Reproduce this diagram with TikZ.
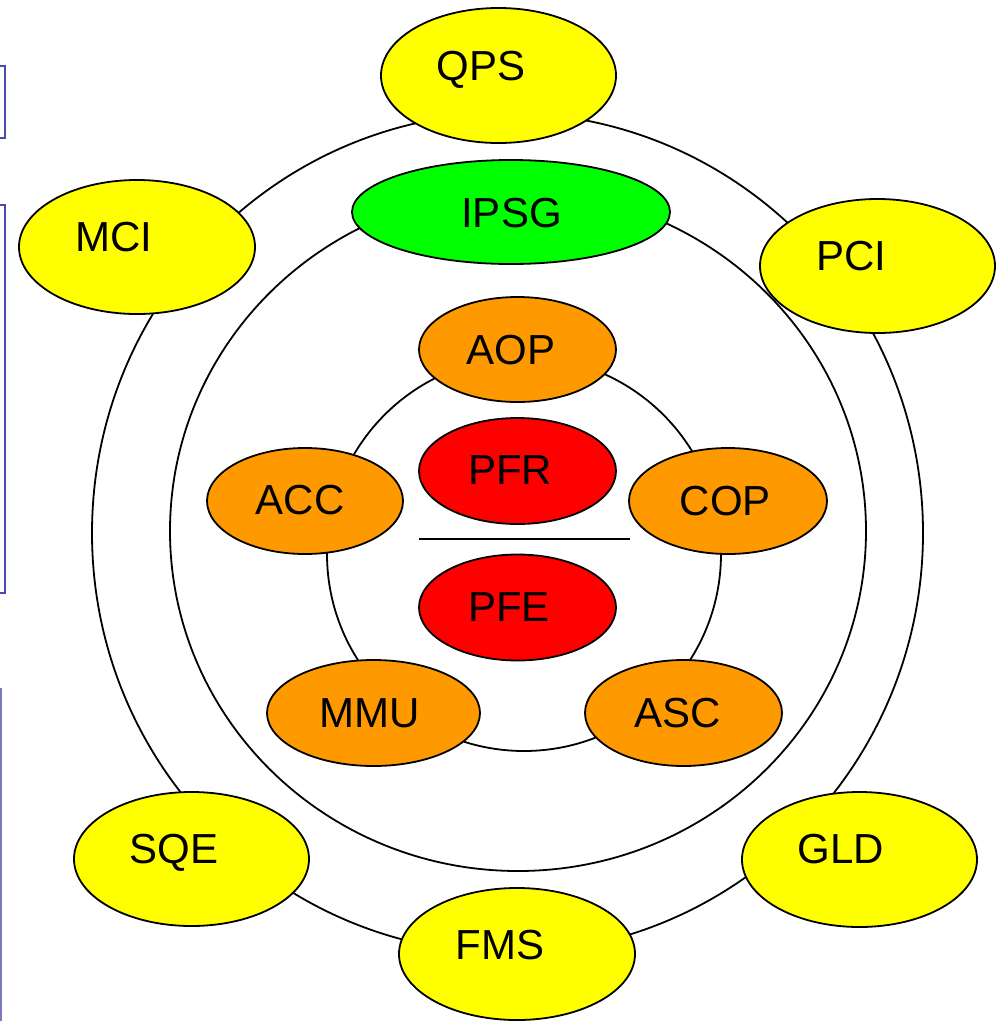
\documentclass[tikz,border=0pt]{standalone}
\usepackage{fontspec}
\setmainfont{Liberation Sans}
\usetikzlibrary{shapes.geometric}
\definecolor{ylw}{HTML}{FFFF00}
\definecolor{grn}{HTML}{00FF00}
\definecolor{orng}{HTML}{FF9900}
\definecolor{rd}{HTML}{FF0000}
\definecolor{boxblue}{HTML}{4A4AAA}
\definecolor{boxblueb}{HTML}{7A7AC4}
\tikzset{
  oval/.style 2 args={ellipse, draw=black, line width=1.8pt, inner sep=0pt, outer sep=0pt,
    minimum width=#1pt, minimum height=#2pt},
  ring/.style 2 args={ellipse, draw=black, line width=1.8pt, inner sep=0pt, outer sep=0pt,
    minimum width=#1pt, minimum height=#2pt},
  lbl/.style={anchor=base, inner sep=0pt, font=\fontsize{42}{50}\selectfont},
  edgebox/.style={draw=boxblue, line width=1.8pt},
}
\begin{document}
\begin{tikzpicture}[x=1pt,y=-1pt]
\useasboundingbox[fill=white] (0,0) rectangle (998,1021);
% left edge boxes
\draw[edgebox] (0,66) -- (5,66) -- (5,138) -- (0,138);
\draw[edgebox] (0,205) -- (5,205) -- (5,593) -- (0,593);
\draw[draw=boxblueb, line width=1.6pt] (0.8,688) -- (0.8,1021);
% outer ring
\node[ring={831}{840}] (outerring) at (507.5,533) {};
% yellow ellipses
\node[oval={235}{135}, fill=ylw] (qps) at (498.5,75.5) {};
\node[lbl] (qpsT) at (481,80) {QPS};
\node[oval={236}{134}, fill=ylw] (mci) at (137,247) {};
\node[lbl] (mciT) at (114,251) {MCI};
\node[oval={235}{134}, fill=ylw] (pci) at (877.5,266) {};
\node[lbl] (pciT) at (851,270) {PCI};
\node[oval={235}{134}, fill=ylw] (sqe) at (191.5,859) {};
\node[lbl] (sqeT) at (174,863) {SQE};
\node[oval={235}{135}, fill=ylw] (gld) at (859.5,859.5) {};
\node[lbl] (gldT) at (840.5,863) {GLD};
\node[oval={236}{132}, fill=ylw] (fms) at (517,954) {};
\node[lbl] (fmsT) at (500,959) {FMS};
% middle ring
\node[ring={696}{680}] (midring) at (518,531) {};
% green
\node[oval={318}{104}, fill=grn] (ipsg) at (511,212) {};
\node[lbl] (ipsgT) at (511.5,227) {IPSG};
% inner ring
\node[ring={394}{394}] (innerring) at (524,554) {};
% orange ellipses
\node[oval={197}{105}, fill=orng] (aop) at (517.5,349.5) {};
\node[lbl] (aopT) at (511,364) {AOP};
\node[oval={196}{106}, fill=orng] (acc) at (305,501) {};
\node[lbl] (accT) at (300,514) {ACC};
\node[oval={198}{106}, fill=orng] (cop) at (728,501) {};
\node[lbl] (copT) at (725.5,515) {COP};
\node[oval={213}{106}, fill=orng] (mmu) at (373.5,713) {};
\node[lbl] (mmuT) at (370,727) {MMU};
\node[oval={197}{106}, fill=orng] (asc) at (683.5,713) {};
\node[lbl] (ascT) at (678,727) {ASC};
% red ellipses
\node[oval={197}{106}, fill=rd] (pfr) at (517.5,471) {};
\node[lbl] (pfrT) at (510,484) {PFR};
\node[oval={197}{106}, fill=rd] (pfe) at (517.5,607.5) {};
\node[lbl] (pfeT) at (509,621) {PFE};
% divider
\coordinate (divL) at (419,539);
\coordinate (divR) at (630,539);
\draw[line width=1.8pt] (divL) -- (divR);
\end{tikzpicture}
\end{document}
